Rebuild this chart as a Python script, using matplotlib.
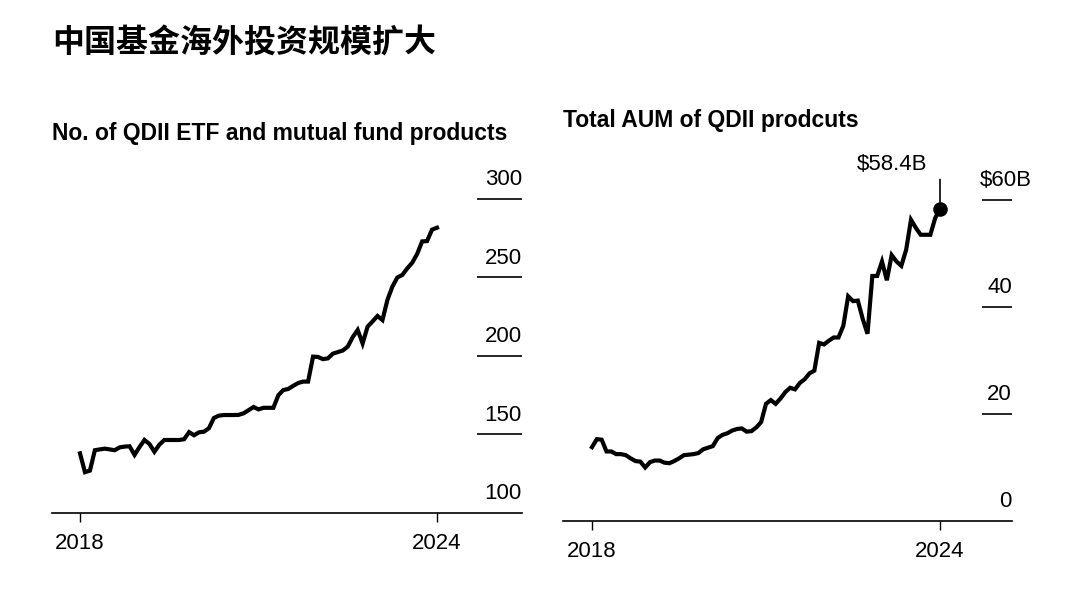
import numpy as np
import matplotlib
matplotlib.use("Agg")
import matplotlib.pyplot as plt

plt.rcParams['font.family'] = ['Liberation Sans', 'Noto Sans CJK SC', 'DejaVu Sans']

# monthly values, Jan 2018 .. Jan 2024
products = [138, 126, 127, 140, 140.5, 141, 140.5, 140, 141.8, 142.3, 142.5, 137,
            142, 146.5, 144, 139, 143.5, 146.5, 146.5, 146.5, 146.5, 147, 151.5, 149.5,
            151.4, 151.8, 154, 160.5, 162, 162.4, 162.4, 162.4, 162.5, 163.5, 165.5, 167.5,
            166, 167, 167, 167, 175, 178.3, 179, 181, 182.8, 183.7, 183.7, 199.6,
            199.4, 198, 198.5, 201.5, 202.5, 203.5, 206, 212, 216.6, 208, 218.7, 222,
            225.5, 222.9, 235.7, 244.2, 250, 251.6, 255.8, 259.4, 265, 273, 273.2, 280.5,
            281.7]
aum = [13.8, 15.3, 15.2, 13, 13, 12.5, 12.5, 12.3, 11.7, 11.2, 11.1, 10,
       11, 11.3, 11.3, 10.9, 10.8, 11.2, 11.7, 12.3, 12.4, 12.5, 12.7, 13.4,
       13.7, 14, 15.5, 16.1, 16.4, 16.9, 17.2, 17.3, 16.7, 16.8, 17.5, 18.5,
       21.9, 22.6, 21.9, 22.9, 24.1, 24.9, 24.6, 25.8, 26.5, 27.6, 28.1, 33.3,
       33, 33.7, 34.3, 34.3, 36.5, 42, 41.1, 41.2, 37.8, 35, 45.8, 45.8,
       48.5, 45, 49.7, 48.5, 47.7, 50.7, 56.3, 54.8, 53.5, 53.5, 53.5, 56.6,
       58.4]
months = 2018 + np.arange(len(products)) / 12.0

left_ticks = [150, 200, 250, 300]
left_labels = ['150', '200', '250', '300']
right_ticks = [20, 40, 60]
right_labels = ['20', '40', '$60B']
year_ticks = [2018, 2024]

W, H = 1080, 593
fig = plt.figure(figsize=(W / 100, H / 100), dpi=100)
fig.patch.set_facecolor('white')
FS = 16


def px_axes(l, r, top, bottom):
    return fig.add_axes([l / W, (H - bottom) / H, (r - l) / W, (bottom - top) / H])


def style(ax):
    for s in ['top', 'right', 'left']:
        ax.spines[s].set_visible(False)
    ax.spines['bottom'].set_linewidth(1.2)
    ax.set_yticks([])
    ax.set_xticks(year_ticks)
    ax.set_xticklabels([str(y) for y in year_ticks], fontsize=FS)
    ax.tick_params(axis='x', length=6.5, width=1, pad=8)
    ax.patch.set_alpha(0)


# left chart
ax1 = px_axes(52, 522, 160, 513)
ax1.plot(months, products, color='black', lw=3.0, solid_joinstyle='miter')
ax1.set_xlim(2018 - 28 / 59.5, 2024 + 85 / 59.5)
ax1.set_ylim(100, 100 + 353 * 50 / 78.5)
style(ax1)
ax1.hlines(left_ticks, 0.904, 1.0, transform=ax1.get_yaxis_transform(), color='black', lw=1.2)
for v, t in zip(left_ticks + [100], left_labels + ['100']):
    ax1.annotate(t, (1.0, v), xycoords=('axes fraction', 'data'), xytext=(0, 10),
                 textcoords='offset points', ha='right', va='baseline', fontsize=FS)

# right chart
ax2 = px_axes(563, 1012, 150, 521)
ax2.plot(months, aum, color='black', lw=3.0, solid_joinstyle='miter')
ax2.plot(months[-1], aum[-1], 'o', color='black', ms=9.5)
ax2.set_xlim(2018 - 29 / 58.0, 2024 + 72 / 58.0)
ax2.set_ylim(0, 371 / 5.35)
style(ax2)
ax2.hlines(right_ticks, 0.933, 1.0, transform=ax2.get_yaxis_transform(), color='black', lw=1.2)
for v, t in zip(right_ticks + [0], right_labels + ['0']):
    dx = 14 if t.startswith('$') else 0
    ax2.annotate(t, (1.0, v), xycoords=('axes fraction', 'data'), xytext=(dx, 10),
                 textcoords='offset points', ha='right', va='baseline', fontsize=FS)
ax2.annotate('', (months[-1], aum[-1]), xytext=(0, 21), textcoords='offset points',
             arrowprops=dict(arrowstyle='-', color='black', lw=1.2, shrinkA=0, shrinkB=0))
ax2.annotate('$58.4B', (months[-1], aum[-1]), xytext=(-9, 32), textcoords='offset points',
             ha='right', va='center', fontsize=FS)

# titles
fig.text(52 / W, 1 - 44 / H, '中国基金海外投资规模扩大', fontsize=23, weight='bold',
         family=['Noto Sans CJK SC', 'DejaVu Sans'], va='center', ha='left')
fig.text(52 / W, 1 - 140 / H, 'No. of QDII ETF and mutual fund products', fontsize=16.5,
         weight='bold', va='baseline', ha='left')
fig.text(563 / W, 1 - 127 / H, 'Total AUM of QDII prodcuts', fontsize=16.5,
         weight='bold', va='baseline', ha='left')

fig.savefig('out.png', dpi=100, facecolor='white')
